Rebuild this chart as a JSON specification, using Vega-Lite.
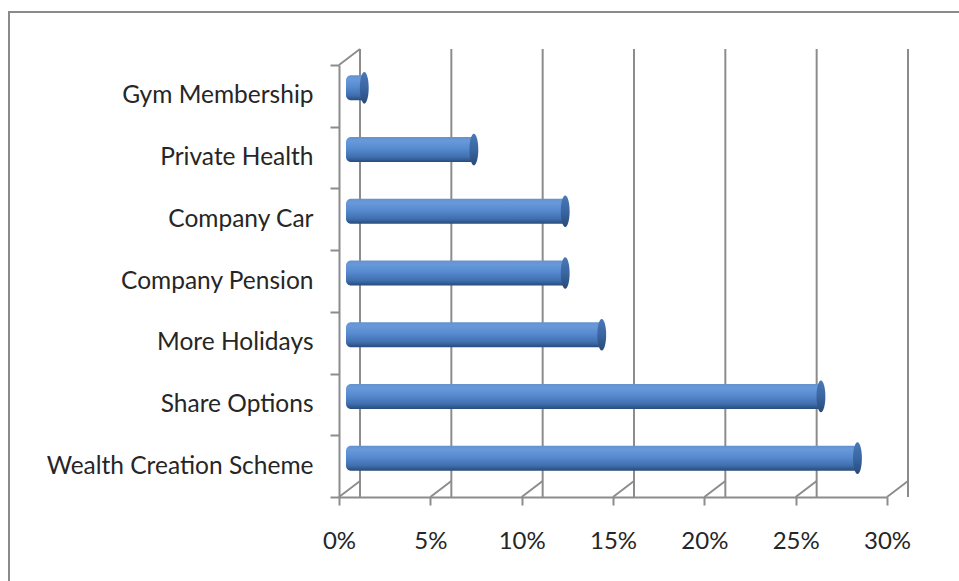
{
  "$schema": "https://vega.github.io/schema/vega-lite/v6.json",
  "width": 548,
  "height": 432,
  "autosize": {"type": "none"},
  "padding": {"left": 339, "top": 65, "right": 72, "bottom": 84},
  "background": "white",
  "config": {"view": {"stroke": null}},
  "datasets": {
    "benefits": [
      {"benefit": "Gym Membership", "share": 0.01},
      {"benefit": "Private Health", "share": 0.07},
      {"benefit": "Company Car", "share": 0.12},
      {"benefit": "Company Pension", "share": 0.12},
      {"benefit": "More Holidays", "share": 0.14},
      {"benefit": "Share Options", "share": 0.26},
      {"benefit": "Wealth Creation Scheme", "share": 0.28}
    ],
    "ticks": [
      {"t": 0}, {"t": 0.05}, {"t": 0.1}, {"t": 0.15}, {"t": 0.2}, {"t": 0.25}, {"t": 0.3}
    ]
  },
  "layer": [
    {
      "data": {"name": "ticks"},
      "mark": {"type": "rule", "stroke": "#8c8c8c", "strokeWidth": 2, "xOffset": 21, "x2Offset": 21, "yOffset": -16, "y2Offset": -16},
      "encoding": {
        "x": {"field": "t", "type": "quantitative", "scale": {"domain": [0, 0.3], "nice": false, "zero": true},
          "axis": {"format": "%", "values": [0, 0.05, 0.1, 0.15, 0.2, 0.25, 0.3], "title": null, "grid": false,
            "domainColor": "#8c8c8c", "domainWidth": 2, "tickColor": "#8c8c8c", "tickWidth": 2, "tickSize": 8,
            "labelFont": "Lato", "labelFontSize": 24, "labelColor": "#262626", "labelPadding": 24, "labelFlush": false}}
      }
    },
    {
      "data": {"name": "ticks"},
      "mark": {"type": "rule", "stroke": "#8c8c8c", "strokeWidth": 2, "x2Offset": 21, "y2Offset": -16},
      "encoding": {
        "x": {"field": "t", "type": "quantitative"},
        "x2": {"field": "t"},
        "y": {"value": "height"},
        "y2": {"value": "height"}
      }
    },
    {
      "data": {"values": [{"t": 0}]},
      "mark": {"type": "rule", "stroke": "#8c8c8c", "strokeWidth": 2, "x2Offset": 21, "y2Offset": -16},
      "encoding": {
        "x": {"field": "t", "type": "quantitative"},
        "x2": {"field": "t"},
        "y": {"value": 0},
        "y2": {"value": 0}
      }
    },
    {
      "data": {"name": "benefits"},
      "mark": {"type": "bar", "height": {"band": 0.405}, "xOffset": 7, "x2Offset": 7, "yOffset": -8, "y2Offset": -8,
        "cornerRadiusTopLeft": 5, "cornerRadiusBottomLeft": 5,
        "color": {"gradient": "linear", "x1": 0, "y1": 0, "x2": 0, "y2": 1,
          "stops": [
            {"offset": 0, "color": "#6492cf"},
            {"offset": 0.15, "color": "#6899da"},
            {"offset": 0.45, "color": "#578bd0"},
            {"offset": 0.8, "color": "#406fae"},
            {"offset": 1, "color": "#284b7c"}
          ]}},
      "encoding": {
        "y": {"field": "benefit", "type": "nominal", "sort": null,
          "scale": {"paddingInner": 0, "paddingOuter": 0},
          "axis": {"title": null, "tickBand": "extent", "domainColor": "#8c8c8c", "domainWidth": 2, "tickColor": "#8c8c8c", "tickWidth": 2, "tickSize": 9,
            "labelFont": "Lato", "labelFontSize": 24.5, "labelColor": "#262626", "labelPadding": 17, "labelLimit": 0}},
        "x": {"field": "share", "type": "quantitative"},
        "x2": {"datum": 0}
      }
    },
    {
      "data": {"name": "benefits"},
      "mark": {"type": "point", "filled": true, "size": 1000, "xOffset": 7, "yOffset": -8, "opacity": 1,
        "shape": "M0,-1 A0.28,1 0 1,1 0,1 A0.28,1 0 1,1 0,-1 Z",
        "color": {"gradient": "linear", "x1": 0, "y1": 0, "x2": 0, "y2": 1,
          "stops": [
            {"offset": 0, "color": "#4a79b8"},
            {"offset": 0.5, "color": "#3a66a1"},
            {"offset": 1, "color": "#284a79"}
          ]}},
      "encoding": {
        "y": {"field": "benefit", "type": "nominal", "sort": null},
        "x": {"field": "share", "type": "quantitative"}
      }
    },
    {
      "data": {"values": [{"t": 0}]},
      "mark": {"type": "rect", "fill": null, "stroke": "#8a8a8a", "strokeWidth": 2, "clip": false},
      "encoding": {
        "x": {"value": -330},
        "x2": {"value": 700},
        "y": {"value": -53},
        "y2": {"value": 540}
      }
    }
  ]
}
